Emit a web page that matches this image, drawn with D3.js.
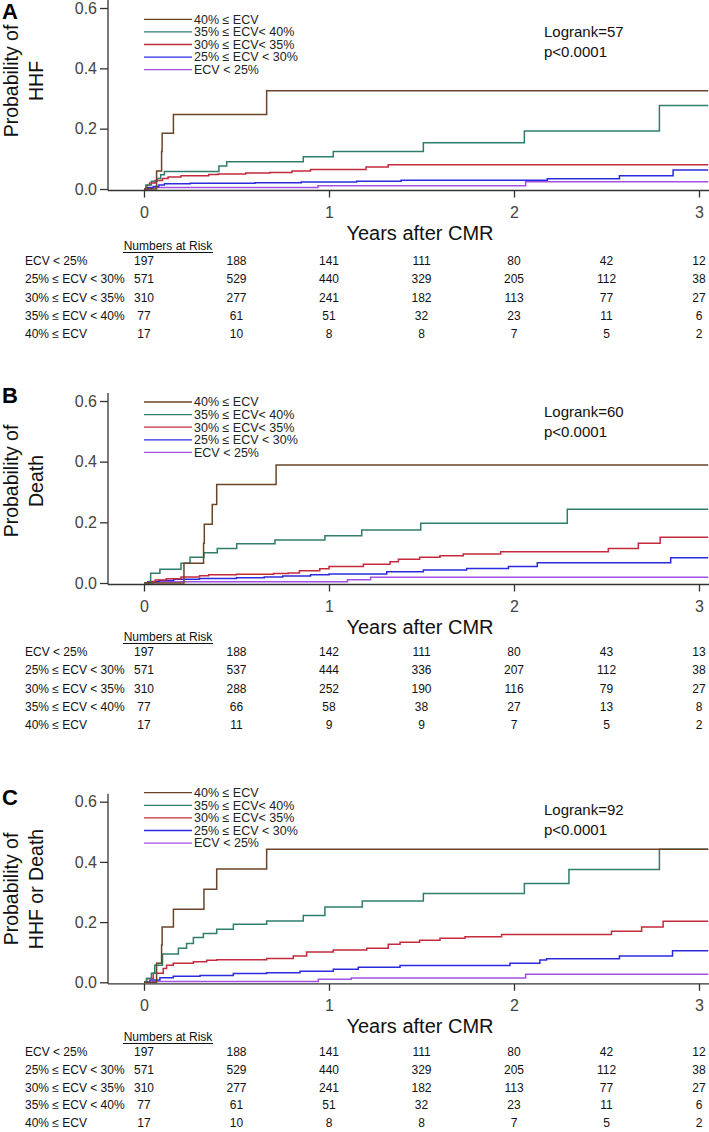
<!DOCTYPE html>
<html><head><meta charset="utf-8">
<script src="https://cdn.jsdelivr.net/npm/d3@7"></script>
<style>
html,body{margin:0;padding:0;background:#fff;}
svg{display:block;font-family:"Liberation Sans",Arial,Helvetica,sans-serif;}
</style></head>
<body>
<svg id="chart" width="709" height="1132"></svg>
<script>
// ---------- data ----------
const riskTimes = [0, 0.5, 1, 1.5, 2, 2.5, 3];
const xTicks = [0, 1, 2, 3];
const yTicks = [0, 0.2, 0.4, 0.6];
const tableLabels = ["ECV < 25%", "25% \u2264 ECV < 30%", "30% \u2264 ECV < 35%", "35% \u2264 ECV < 40%", "40% \u2264 ECV"];
const legendLabels = ["40% \u2264 ECV", "35% \u2264 ECV< 40%", "30% \u2264 ECV< 35%", "25% \u2264 ECV < 30%", "ECV < 25%"];
const groupColors = ["#6b4428", "#2f7d6d", "#c42a3c", "#2a2ae0", "#a250e6"]; // legend order
const panelLetters = ["A", "B", "C"];
const yLabels = [["Probability of", "HHF"], ["Probability of", "Death"], ["Probability of", "HHF or Death"]];
const logrankTexts = [["Logrank=57", "p<0.0001"], ["Logrank=60", "p<0.0001"], ["Logrank=92", "p<0.0001"]];
const xTitle = "Years after CMR";
const riskTitle = "Numbers at Risk";
const tEnd = 3.05;

// Panel A: HHF  [years, cumulative probability]
const hhf40 = [[0,0],[0.068,0.060],[0.095,0.124],[0.098,0.185],[0.159,0.247],[0.663,0.326]];
const hhf35 = [[0,0],[0.01,0.013],[0.04,0.026],[0.07,0.035],[0.09,0.047],[0.11,0.058],[0.405,0.076],[0.447,0.090],[0.861,0.107],[1.023,0.124],[1.51,0.153],[2.056,0.192],[2.786,0.277]];
const hhf30 = [[0,0],[0.015,0.012],[0.03,0.02],[0.06,0.028],[0.1,0.035],[0.13,0.04],[0.2,0.044],[0.35,0.048],[0.4,0.05],[0.55,0.053],[0.68,0.055],[0.8,0.06],[0.9,0.065],[1.2,0.073],[1.32,0.08]];
const hhf25 = [[0,0],[0.02,0.004],[0.05,0.008],[0.08,0.013],[0.11,0.017],[0.25,0.019],[0.6,0.021],[0.85,0.023],[1.15,0.026],[1.39,0.029],[2.18,0.034],[2.57,0.044],[2.86,0.063]];
const hhfLt25 = [[0,0],[0.04,0.005],[0.94,0.011],[2.063,0.024]];

// Panel B: Death
const death40 = [[0,0],[0.216,0.065],[0.322,0.131],[0.326,0.194],[0.369,0.259],[0.393,0.325],[0.714,0.389]];
const death35 = [[0,0],[0.036,0.032],[0.086,0.045],[0.2,0.065],[0.249,0.085],[0.324,0.1],[0.396,0.114],[0.501,0.129],[0.708,0.142],[0.978,0.156],[1.177,0.175],[1.496,0.197],[2.288,0.243]];
const death30 = [[0,0],[0.03,0.005],[0.06,0.01],[0.12,0.014],[0.2,0.02],[0.3,0.024],[0.35,0.027],[0.5,0.029],[0.7,0.031],[0.78,0.033],[0.84,0.04],[0.95,0.047],[1.0,0.054],[1.186,0.062],[1.33,0.07],[1.375,0.078],[1.49,0.085],[1.6,0.09],[1.726,0.096],[1.928,0.103],[2.51,0.114],[2.672,0.131],[2.79,0.151]];
const death25 = [[0,0],[0.02,0.004],[0.08,0.008],[0.16,0.012],[0.3,0.015],[0.5,0.017],[0.65,0.02],[0.75,0.023],[0.9,0.027],[1.0,0.03],[1.312,0.037],[1.51,0.043],[1.744,0.048],[1.97,0.054],[2.126,0.067],[2.847,0.083]];
const deathLt25 = [[0,0],[0.05,0.004],[1.1,0.011],[1.225,0.019]];

// Panel C: HHF or Death
const comb40 = [[0,0],[0.068,0.063],[0.095,0.124],[0.098,0.184],[0.159,0.243],[0.324,0.309],[0.393,0.376],[0.663,0.442]];
const comb35 = [[0,0],[0.014,0.013],[0.04,0.03],[0.058,0.057],[0.1,0.094],[0.186,0.113],[0.23,0.129],[0.267,0.149],[0.321,0.162],[0.393,0.176],[0.483,0.193],[0.663,0.204],[0.861,0.222],[0.978,0.25],[1.18,0.27],[1.51,0.295],[2.056,0.328],[2.297,0.375],[2.786,0.442]];
const comb30 = [[0,0],[0.014,0.013],[0.05,0.03],[0.104,0.046],[0.122,0.057],[0.158,0.063],[0.267,0.068],[0.339,0.073],[0.393,0.075],[0.663,0.079],[0.807,0.087],[0.879,0.101],[1.023,0.107],[1.204,0.113],[1.32,0.126],[1.384,0.133],[1.49,0.14],[1.6,0.146],[1.735,0.151],[1.933,0.159],[2.527,0.17],[2.69,0.184],[2.806,0.203]];
const comb25 = [[0,0],[0.032,0.008],[0.086,0.015],[0.158,0.02],[0.303,0.023],[0.483,0.029],[0.663,0.032],[0.843,0.037],[1.023,0.043],[1.158,0.05],[1.384,0.056],[1.978,0.063],[2.14,0.074],[2.176,0.078],[2.57,0.087],[2.857,0.105]];
const combLt25 = [[0,0],[0.05,0.003],[0.942,0.01],[1.12,0.014],[2.063,0.027]];

// Numbers at risk (rows in table order: <25, 25-30, 30-35, 35-40, >=40)
const riskHHF = [[197,188,141,111,80,42,12],[571,529,440,329,205,112,38],[310,277,241,182,113,77,27],[77,61,51,32,23,11,6],[17,10,8,8,7,5,2]];
const riskDeath = [[197,188,142,111,80,43,13],[571,537,444,336,207,112,38],[310,288,252,190,116,79,27],[77,66,58,38,27,13,8],[17,11,9,9,7,5,2]];
const riskComb = [[197,188,141,111,80,42,12],[571,529,440,329,205,112,38],[310,277,241,182,113,77,27],[77,61,51,32,23,11,6],[17,10,8,8,7,5,2]];

const curveSets = [[hhf40,hhf35,hhf30,hhf25,hhfLt25],[death40,death35,death30,death25,deathLt25],[comb40,comb35,comb30,comb25,combLt25]];
const riskSets = [riskHHF, riskDeath, riskComb];

// ---------- layout ----------
const layouts = [
  {y0:189, y6:8, letterY:11, legendY:19.3, logY:32, ylabY:81, nar:246, rowGap:18.2},
  {y0:583, y6:401, letterY:395, legendY:402, logY:411.7, ylabY:481, nar:637, rowGap:18.2},
  {y0:982.3, y6:801.7, letterY:797, legendY:792.7, logY:810, ylabY:889, nar:1037, rowGap:17.7}
];
const axisX = 108, rightEdge = 709;
const axisColor = "#333", tickTextColor = "#444";

const svg = d3.select("#chart");
const x = d3.scaleLinear().domain([0,3]).range([144,699]);

layouts.forEach((L, pi) => {
  const g = svg.append("g");
  const y = d3.scaleLinear().domain([0,0.6]).range([L.y0, L.y6]);
  const axisY = L.y0 + 1.5;

  // panel letter
  g.append("text").attr("x",2).attr("y",L.letterY).attr("dy","0.36em")
    .attr("font-size",22).attr("font-weight","bold").attr("fill","#000").text(panelLetters[pi]);

  // y axis
  const ya = g.append("g").attr("transform",`translate(${axisX},0)`)
    .call(d3.axisLeft(y).tickValues(yTicks).tickFormat(d3.format(".1f")).tickSize(8).tickPadding(3));
  ya.select(".domain").remove();
  ya.selectAll(".tick line").attr("stroke",axisColor).attr("stroke-width",1.3);
  ya.selectAll(".tick text").attr("font-size",16).attr("fill",tickTextColor).attr("font-family",null);
  g.append("line").attr("x1",axisX).attr("x2",axisX).attr("y1",L.y6-8).attr("y2",axisY)
    .attr("stroke",axisColor).attr("stroke-width",1.3);

  // x axis
  const xa = g.append("g").attr("transform",`translate(0,${axisY})`)
    .call(d3.axisBottom(x).tickValues(xTicks).tickFormat(d3.format("d")).tickSize(7).tickPadding(9));
  xa.select(".domain").remove();
  xa.selectAll(".tick line").attr("stroke",axisColor).attr("stroke-width",1.3);
  xa.selectAll(".tick text").attr("font-size",16).attr("fill",tickTextColor).attr("font-family",null);
  g.append("line").attr("x1",axisX).attr("x2",rightEdge).attr("y1",axisY).attr("y2",axisY)
    .attr("stroke",axisColor).attr("stroke-width",1.3);

  // y label
  yLabels[pi].forEach((t,i) => {
    g.append("text").attr("transform",`translate(${i===0?18:43},${L.ylabY}) rotate(-90)`)
      .attr("text-anchor","middle").attr("font-size",19.5).attr("fill","#111").text(t);
  });

  // curves (draw in reverse so brown on top)
  const line = d3.line().x(d=>x(d[0])).y(d=>y(d[1])).curve(d3.curveStepAfter);
  const curves = curveSets[pi];
  curves.slice().reverse().forEach((c, ri) => {
    const idx = curves.length-1-ri;
    const pts = c.concat([[tEnd, c[c.length-1][1]]]);
    g.append("path").attr("d",line(pts)).attr("fill","none")
      .attr("stroke",groupColors[idx]).attr("stroke-width",1.5);
  });

  // legend
  legendLabels.forEach((lab,i) => {
    const ly = L.legendY + i*12.6;
    g.append("line").attr("x1",144).attr("x2",192).attr("y1",ly).attr("y2",ly)
      .attr("stroke",groupColors[i]).attr("stroke-width",1.3);
    g.append("text").attr("x",194).attr("y",ly).attr("dy","0.35em")
      .attr("font-size",12.5).attr("fill","#222").text(lab);
  });

  // logrank
  logrankTexts[pi].forEach((t,i) => {
    g.append("text").attr("x",544).attr("y",L.logY + i*20).attr("dy","0.35em")
      .attr("font-size",15).attr("fill","#111").text(t);
  });

  // x title
  g.append("text").attr("x",420).attr("y",L.y0+44).attr("dy","0.35em")
    .attr("text-anchor","middle").attr("font-size",20).attr("fill","#111").text(xTitle);

  // numbers at risk
  g.append("text").attr("x",168).attr("y",L.nar).attr("dy","0.35em")
    .attr("text-anchor","middle").attr("font-size",12).attr("fill","#111").text(riskTitle);
  g.append("line").attr("x1",123).attr("x2",213).attr("y1",L.nar+6.5).attr("y2",L.nar+6.5)
    .attr("stroke","#111").attr("stroke-width",1);
  const risk = riskSets[pi];
  tableLabels.forEach((lab,r) => {
    const ry = L.nar + 15 + r*L.rowGap;
    g.append("text").attr("x",25).attr("y",ry).attr("dy","0.35em")
      .attr("font-size",12).attr("fill","#111").text(lab);
    risk[r].forEach((v,c) => {
      g.append("text").attr("x",x(riskTimes[c])).attr("y",ry).attr("dy","0.35em")
        .attr("text-anchor","middle").attr("font-size",12).attr("fill","#111").text(v);
    });
  });
});
</script>
</body></html>
